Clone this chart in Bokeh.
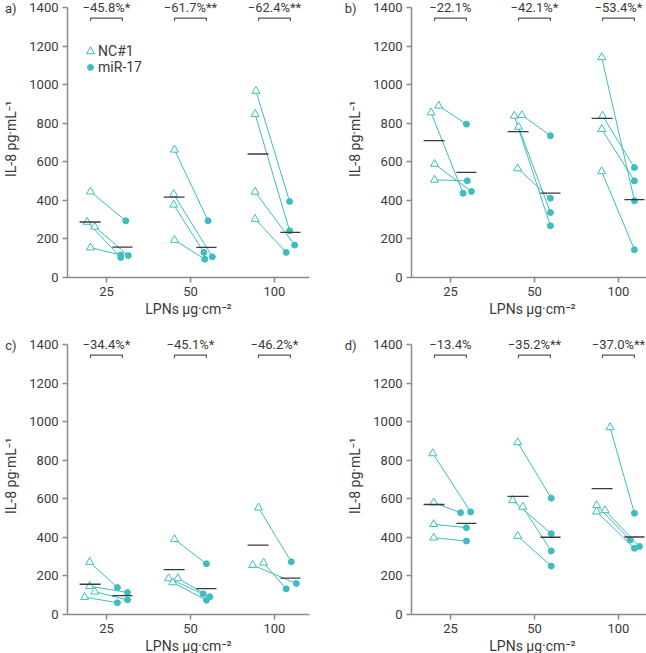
import numpy as np
from bokeh.plotting import figure
from bokeh.models import FixedTicker, LinearAxis
from bokeh.layouts import row, column
from bokeh.embed import file_html
from bokeh.resources import INLINE
from bokeh.core.properties import value

# ---------------- data ----------------
doses = ["25", "50", "100"]
y_ticks = [0, 200, 400, 600, 800, 1000, 1200, 1400]

# panel a
a_nc = [[445, 288, 263, 155], [662, 432, 377, 194], [967, 847, 444, 303]]
a_mir = [[294, 104, 114, 117], [294, 107, 130, 95], [394, 242, 168, 130]]
a_pct = ["\u221245.8%*", "\u221261.7%**", "\u221262.4%**"]
# panel b
b_nc = [[890, 855, 588, 506], [842, 838, 781, 565], [1141, 838, 769, 550]]
b_mir = [[795, 437, 446, 501], [735, 268, 337, 411], [398, 570, 501, 144]]
b_pct = ["\u221222.1%", "\u221242.1%*", "\u221253.4%*"]
# panel c
c_nc = [[272, 147, 118, 90], [390, 187, 187, 166], [554, 256, 268]]
c_mir = [[140, 114, 76, 61], [263, 107, 92, 74], [273, 161, 133]]
c_pct = ["\u221234.4%*", "\u221245.1%*", "\u221246.2%*"]
# panel d
d_nc = [[835, 580, 468, 398], [892, 592, 558, 407], [970, 566, 540, 533]]
d_mir = [[532, 528, 450, 381], [603, 419, 329, 251], [525, 386, 353, 343]]
d_pct = ["\u221213.4%", "\u221235.2%**", "\u221237.0%**"]

# horizontal jitter of individual points (category units)
a_nc_dx = [[-0.19, -0.23, -0.14, -0.19], [-0.19, -0.20, -0.20, -0.19], [-0.22, -0.23, -0.23, -0.23]]
a_mir_dx = [[0.23, 0.17, 0.26, 0.17], [0.21, 0.26, 0.16, 0.17], [0.18, 0.18, 0.24, 0.14]]
b_nc_dx = [[-0.14, -0.23, -0.19, -0.19], [-0.15, -0.24, -0.19, -0.20], [-0.20, -0.19, -0.20, -0.20]]
b_mir_dx = [[0.19, 0.15, 0.25, 0.20], [0.19, 0.19, 0.19, 0.19], [0.19, 0.19, 0.19, 0.19]]
c_nc_dx = [[-0.20, -0.20, -0.14, -0.26], [-0.19, -0.26, -0.15, -0.21], [-0.19, -0.26, -0.13]]
c_mir_dx = [[0.13, 0.25, 0.25, 0.13], [0.19, 0.15, 0.23, 0.19], [0.20, 0.26, 0.14]]
d_nc_dx = [[-0.21, -0.20, -0.20, -0.20], [-0.20, -0.26, -0.14, -0.20], [-0.10, -0.26, -0.16, -0.26]]
d_mir_dx = [[0.24, 0.12, 0.19, 0.19], [0.20, 0.20, 0.20, 0.20], [0.19, 0.14, 0.25, 0.19]]

TEAL = "#3dbdbf"
DARK = "#3a3a3a"
AXIS = "#8a8a8a"
FONT = "Roboto"

X0, X1 = -0.464, 2.417
Y1 = 1436
FRAME_W, FRAME_H = 242, 277
LEFT = 63


def make_panel(letter, nc, mir, nc_dx, mir_dx, pct, right, bottom, letter_standoff, legend=False):
    p = figure(frame_width=FRAME_W, frame_height=FRAME_H,
               min_border_left=LEFT, min_border_right=right,
               min_border_top=0, min_border_bottom=bottom,
               x_range=(X0, X1), y_range=(0, Y1),
               output_backend="svg", toolbar_location=None, tools="")
    p.outline_line_color = None
    p.grid.visible = False
    p.background_fill_color = "white"

    # connecting lines and markers
    for i in range(len(doses)):
        xn = [i + d for d in nc_dx[i]]
        xm = [i + d for d in mir_dx[i]]
        p.segment(x0=xn, y0=nc[i], x1=xm, y1=mir[i], line_color=TEAL, line_width=1)
        p.scatter(x=xm, y=mir[i], marker="circle", size=6,
                  fill_color=TEAL, line_color=TEAL)
        p.scatter(x=xn, y=nc[i], marker="triangle", size=8,
                  fill_color="white", line_color=TEAL, line_width=1)

    # mean bars
    mean_nc = [float(np.mean(v)) for v in nc]
    mean_mir = [float(np.mean(v)) for v in mir]
    idx = list(range(len(doses)))
    p.segment(x0=[i - 0.32 for i in idx], y0=mean_nc, x1=[i - 0.07 for i in idx], y1=mean_nc,
              line_color=DARK, line_width=1.3)
    p.segment(x0=[i + 0.07 for i in idx], y0=mean_mir, x1=[i + 0.31 for i in idx], y1=mean_mir,
              line_color=DARK, line_width=1.3)

    # brackets and percentages
    p.multi_line(xs=[[i - 0.19, i - 0.19, i + 0.19, i + 0.19] for i in idx],
                 ys=[[1330, 1345, 1345, 1330] for _ in idx],
                 line_color="#555555", line_width=1.2)
    p.text(x=idx, y=[1400] * len(idx), text=pct, text_align="center",
           text_baseline="middle", text_font=value(FONT), text_font_size="13px",
           text_color=DARK)

    if legend:
        p.scatter(x=[-0.19], y=[1172], marker="triangle", size=8,
                  fill_color="white", line_color=TEAL)
        p.scatter(x=[-0.19], y=[1089], marker="circle", size=6,
                  fill_color=TEAL, line_color=TEAL)
        p.text(x=[-0.10, -0.10], y=[1172, 1089], text=["NC#1", "miR-17"],
               text_align="left", text_baseline="middle", text_font=value(FONT),
               text_font_size="14px", text_color=DARK)

    # axes
    p.yaxis.ticker = FixedTicker(ticks=y_ticks)
    p.yaxis.bounds = (0, 1400)
    p.xaxis.ticker = FixedTicker(ticks=idx)
    p.xaxis.major_label_overrides = {i: d for i, d in enumerate(doses)}
    for ax in (p.xaxis[0], p.yaxis[0]):
        ax.axis_line_color = AXIS
        ax.axis_line_width = 1.5
        ax.major_tick_line_color = AXIS
        ax.major_tick_line_width = 1.5
        ax.major_tick_in = 0
        ax.major_tick_out = 5
        ax.minor_tick_line_color = None
        ax.major_label_text_font = FONT
        ax.major_label_text_font_size = "13px"
        ax.major_label_text_color = DARK
        ax.major_label_standoff = 4
        ax.axis_label_text_font = FONT
        ax.axis_label_text_font_size = "14px"
        ax.axis_label_text_font_style = "normal"
        ax.axis_label_text_color = DARK
    p.yaxis.axis_label = "IL-8 pg\u00b7mL\u207b\u00b9"
    p.yaxis.axis_label_standoff = 7
    p.xaxis.axis_label = "LPNs \u00b5g\u00b7cm\u207b\u00b2"
    p.xaxis.axis_label_standoff = 2

    # panel letter: an extra outer axis carrying a single label
    letter_axis = LinearAxis(ticker=FixedTicker(ticks=[1400]),
                             major_label_overrides={1400: letter + ")"},
                             axis_line_color=None, major_tick_line_color=None,
                             minor_tick_line_color=None, major_tick_in=0, major_tick_out=0,
                             major_label_standoff=letter_standoff,
                             major_label_text_font=FONT, major_label_text_font_size="13px",
                             major_label_text_color=DARK)
    p.add_layout(letter_axis, "left")
    return p


pa = make_panel("a", a_nc, a_mir, a_nc_dx, a_mir_dx, a_pct, 32, 60, -16, legend=True)
pb = make_panel("b", b_nc, b_mir, b_nc_dx, b_mir_dx, b_pct, 2, 60, -12)
pc = make_panel("c", c_nc, c_mir, c_nc_dx, c_mir_dx, c_pct, 32, 38, -16)
pd = make_panel("d", d_nc, d_mir, d_nc_dx, d_mir_dx, d_pct, 2, 38, -12)

layout = column(row(pa, pb), row(pc, pd))
open("out.html", "w").write(file_html(layout, INLINE))
